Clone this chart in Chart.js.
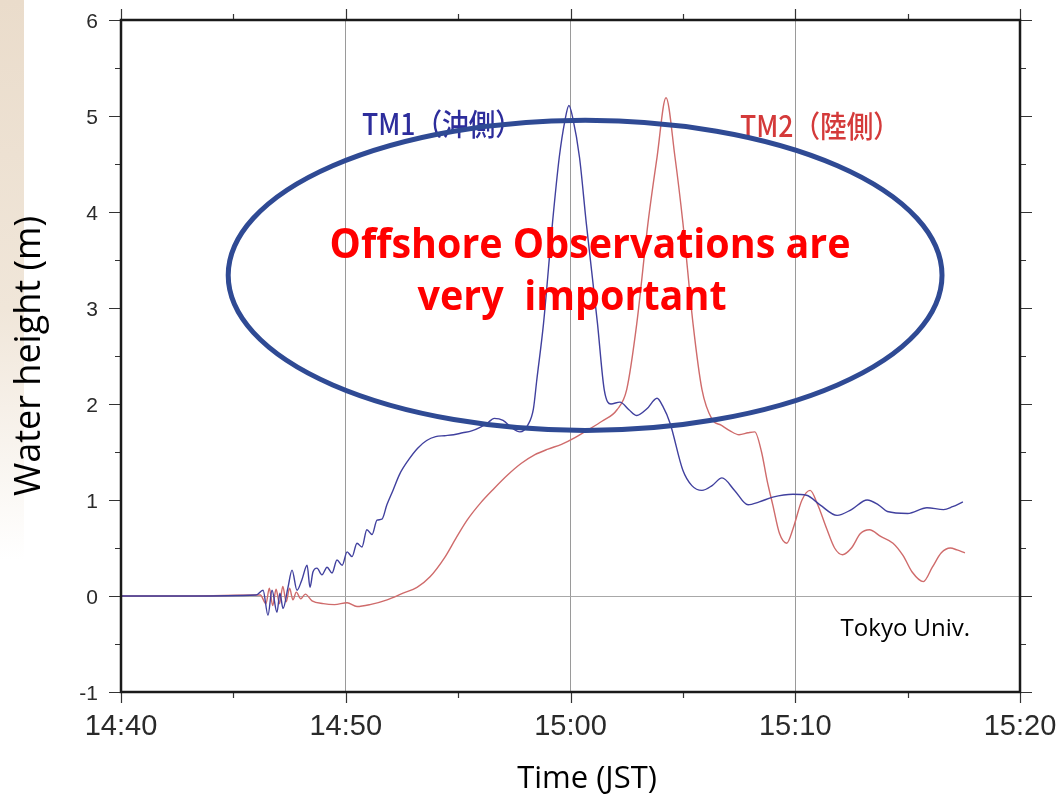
<!DOCTYPE html>
<html lang="ja">
<head>
  <meta charset="UTF-8">
  <title>Water height TM1 / TM2</title>
  <script src="https://cdn.jsdelivr.net/npm/chart.js"></script>
  <style>
    body {
      margin: 0;
      background: #ffffff;
    }
    .wrap {
      position: relative;
      width: 1063px;
      height: 799px;
    }
    .deco {
      position: absolute;
      left: 0;
      top: 0;
      width: 24px;
      height: 560px;
      background: linear-gradient(to bottom, #eadccb 0%, #f0e6d9 55%, rgba(255,255,255,0) 100%);
    }
    canvas {
      position: absolute;
      left: 0;
      top: 0;
    }
  </style>
</head>
<body>
  <div class="wrap">
    <div class="deco"></div>
    <canvas id="waveChart" width="1063" height="799"></canvas>
  </div>

  <script>
    // minutes after 14:40
    const tm1Time = [0, 3, 6, 6.32, 6.54, 6.72, 6.94, 7.07, 7.21, 7.43, 7.61, 7.83, 8.05, 8.28, 8.41, 8.54, 8.72, 8.94, 9.17, 9.39,
      9.61, 9.84, 10.06, 10.28, 10.5, 10.72, 10.94, 11.17, 11.39, 11.61, 11.83, 12.1, 12.4, 12.8, 13.2, 13.6, 14.0, 14.4, 14.8, 15.2,
      15.6, 16.0, 16.3, 16.6, 17.0, 17.4, 17.75, 18.1, 18.35, 18.5, 18.8, 19.2, 19.5, 19.75, 19.93, 20.1, 20.4, 20.7, 21.2, 21.5,
      21.8, 22.2, 22.6, 22.95, 23.4, 23.85, 24.1, 24.43, 25.0, 25.4, 25.85, 26.3, 26.74, 27.3, 27.9, 28.4, 29.0, 29.9, 30.5, 31.1,
      31.86, 32.5, 33.2, 33.7, 34.1, 35.0, 35.86, 36.6, 37.0, 37.46];
    const tm1Height = [0, 0, 0.01, 0.06, -0.2, 0.06, -0.17, 0.03, -0.13, 0.09, 0.27, 0.06, 0.17, 0.32, 0.09, 0.25, 0.29, 0.22, 0.3, 0.24,
      0.375, 0.32, 0.46, 0.41, 0.55, 0.51, 0.69, 0.64, 0.79, 0.8, 0.95, 1.1, 1.27, 1.42, 1.54, 1.62, 1.66, 1.67, 1.68, 1.7,
      1.72, 1.76, 1.8, 1.85, 1.83, 1.75, 1.71, 1.78, 1.95, 2.25, 2.84, 3.89, 4.57, 4.95, 5.11, 4.98, 4.57, 3.89, 2.84, 2.15,
      2.0, 2.02, 1.94, 1.88, 1.95, 2.06, 1.98, 1.8, 1.31, 1.15, 1.1, 1.15, 1.23, 1.1, 0.95, 0.98, 1.03, 1.06, 1.05, 0.95,
      0.84, 0.9, 1.0, 0.95, 0.88, 0.86, 0.92, 0.9, 0.93, 0.98];

    const tm2Time = [0, 3, 6.2, 6.45, 6.6, 6.75, 6.9, 7.05, 7.2, 7.35, 7.5, 7.65, 7.8, 8.0, 8.2, 8.5, 9.0, 9.5, 10.06, 10.5,
      11.08, 11.84, 12.55, 13.17, 13.75, 14.4, 14.9, 15.4, 16.0, 16.6, 17.2, 17.8, 18.4, 19.0, 19.6, 20.2, 20.7, 21.4, 22.07, 22.5,
      22.95, 23.45, 23.85, 24.25, 24.65, 25.0, 25.45, 25.85, 26.3, 26.7, 27.1, 27.5, 27.9, 28.2, 28.5, 28.75, 29.0, 29.3, 29.62, 29.9,
      30.3, 30.66, 31.0, 31.4, 31.75, 32.1, 32.5, 32.9, 33.3, 33.8, 34.35, 34.8, 35.2, 35.7, 36.1, 36.5, 36.9, 37.2, 37.55];
    const tm2Height = [0, 0, 0.01, -0.08, 0.08, -0.1, 0.07, -0.08, 0.1, -0.06, 0.08, -0.04, 0.04, -0.03, 0.02, -0.05, -0.08, -0.09, -0.07, -0.11,
      -0.09, -0.04, 0.03, 0.09, 0.2, 0.4, 0.6, 0.79, 0.97, 1.12, 1.26, 1.38, 1.47, 1.53, 1.58, 1.65, 1.72, 1.82, 1.94, 2.15,
      2.84, 3.89, 4.57, 5.19, 4.57, 3.89, 2.84, 2.15, 1.84, 1.78, 1.72, 1.68, 1.7, 1.71, 1.5, 1.2, 0.95, 0.65, 0.55, 0.7,
      1.0, 1.1, 0.95, 0.7, 0.5, 0.43, 0.5, 0.65, 0.69, 0.62, 0.55, 0.42, 0.25, 0.15, 0.3, 0.45, 0.5, 0.48, 0.45];

    const xTickValues = [0, 10, 20, 30, 40];
    const xTickLabels = ['14:40', '14:50', '15:00', '15:10', '15:20'];
    const yTickValues = [-1, 0, 1, 2, 3, 4, 5, 6];
    const seriesNames = ['TM1（沖側）', 'TM2（陸側）'];
    const noteLines = ['Offshore Observations are', 'very  important'];
    const creditText = 'Tokyo Univ.';

    function toPoints(times, heights) {
      return times.map((t, i) => ({ x: t, y: heights[i] }));
    }

    // ticks, labels, frame, ellipse and notes
    const overlayPlugin = {
      id: 'overlay',
      afterDraw(chart) {
        const ctx = chart.ctx;
        const area = chart.chartArea;
        const xs = chart.scales.x;
        const ys = chart.scales.y;
        const px = v => xs.getPixelForValue(v);
        const py = v => ys.getPixelForValue(v);
        ctx.save();

        // tick marks on all four sides
        ctx.strokeStyle = '#333';
        ctx.lineWidth = 1.2;
        ctx.beginPath();
        for (let v = -1; v <= 6; v += 0.5) {
          const len = Number.isInteger(v) ? 12 : 6;
          const y = Math.round(py(v)) + 0.5;
          ctx.moveTo(area.left - len, y); ctx.lineTo(area.left, y);
          ctx.moveTo(area.right, y); ctx.lineTo(area.right + len, y);
        }
        for (let v = 0; v <= 40; v += 5) {
          const len = v % 10 === 0 ? 11 : 6;
          const x = Math.round(px(v)) + 0.5;
          ctx.moveTo(x, area.bottom); ctx.lineTo(x, area.bottom + len);
          ctx.moveTo(x, area.top - len); ctx.lineTo(x, area.top);
        }
        ctx.stroke();

        // tick labels
        ctx.fillStyle = '#2a2a2a';
        ctx.textBaseline = 'alphabetic';
        ctx.font = '21px "Liberation Sans"';
        ctx.textAlign = 'right';
        yTickValues.forEach(v => ctx.fillText(String(v), area.left - 23, py(v) + 7.5));
        ctx.font = '29px "Liberation Sans"';
        ctx.textAlign = 'center';
        xTickValues.forEach((v, i) => ctx.fillText(xTickLabels[i], px(v), area.bottom + 43));

        // frame
        ctx.strokeStyle = '#1a1a1a';
        ctx.lineWidth = 2.5;
        ctx.strokeRect(area.left, area.top, area.right - area.left, area.bottom - area.top);

        // series labels
        ctx.textAlign = 'center';
        ctx.textBaseline = 'middle';
        ctx.font = '500 30px "Noto Sans CJK JP"';
        ctx.fillStyle = '#2d2d9c';
        ctx.fillText(seriesNames[0], px(14.28), py(4.92), 160);
        ctx.fillStyle = '#d43a3a';
        ctx.fillText(seriesNames[1], px(31.1), py(4.9), 160);

        // ellipse
        const cx = px(20.65), cy = py(3.34);
        const rx = px(20.65 + 15.88) - cx;
        const ry = cy - py(3.34 + 1.615);
        ctx.beginPath();
        ctx.ellipse(cx, cy, rx, ry, 0, 0, Math.PI * 2);
        ctx.strokeStyle = '#2f4a94';
        ctx.lineWidth = 5;
        ctx.stroke();

        // note text
        ctx.fillStyle = '#ff0000';
        ctx.textBaseline = 'alphabetic';
        ctx.font = 'bold 42px "Open Sans"';
        ctx.fillText(noteLines[0], px(20.87), py(3.52), 521);
        ctx.fillText(noteLines[1], px(20.07), py(2.98), 309);

        // credit
        ctx.fillStyle = '#000';
        ctx.textBaseline = 'middle';
        ctx.font = '24px "Open Sans"';
        ctx.fillText(creditText, px(34.9), py(-0.35), 137);

        // x axis title
        ctx.font = '31px "Open Sans"';
        ctx.fillText('Time (JST)', 587, 779);

        ctx.restore();
      }
    };

    new Chart(document.getElementById('waveChart'), {
      type: 'line',
      data: {
        datasets: [
          {
            label: seriesNames[0],
            data: toPoints(tm1Time, tm1Height),
            borderColor: '#40409e',
            borderWidth: 1.4,
            pointRadius: 0,
            cubicInterpolationMode: 'monotone',
            fill: false
          },
          {
            label: seriesNames[1],
            data: toPoints(tm2Time, tm2Height),
            borderColor: '#cf6b6b',
            borderWidth: 1.4,
            pointRadius: 0,
            cubicInterpolationMode: 'monotone',
            fill: false
          }
        ]
      },
      options: {
        responsive: false,
        animation: false,
        layout: { padding: { left: 0, right: 43, top: 20, bottom: 0 } },
        plugins: {
          legend: { display: false },
          tooltip: { enabled: false }
        },
        scales: {
          x: {
            type: 'linear',
            min: 0,
            max: 40,
            border: { display: false },
            grid: {
              drawTicks: false,
              lineWidth: 1,
              color: c => (c.tick && c.tick.value % 10 === 0 && c.tick.value > 0 && c.tick.value < 40) ? '#9a9a9a' : 'rgba(0,0,0,0)'
            },
            ticks: { stepSize: 10, display: false },
            afterFit: scale => { scale.height = 107; }
          },
          y: {
            min: -1,
            max: 6,
            border: { display: false },
            grid: {
              drawTicks: false,
              lineWidth: 1,
              color: c => (c.tick && c.tick.value === 0) ? '#a8a8a8' : 'rgba(0,0,0,0)'
            },
            ticks: { stepSize: 1, display: false },
            title: {
              display: true,
              text: 'Water height (m)',
              color: '#000',
              font: { family: 'Open Sans', size: 36 },
              padding: { top: 8, bottom: 0 }
            },
            afterFit: scale => { scale.width = 121; }
          }
        }
      },
      plugins: [overlayPlugin]
    });
  </script>
</body>
</html>
